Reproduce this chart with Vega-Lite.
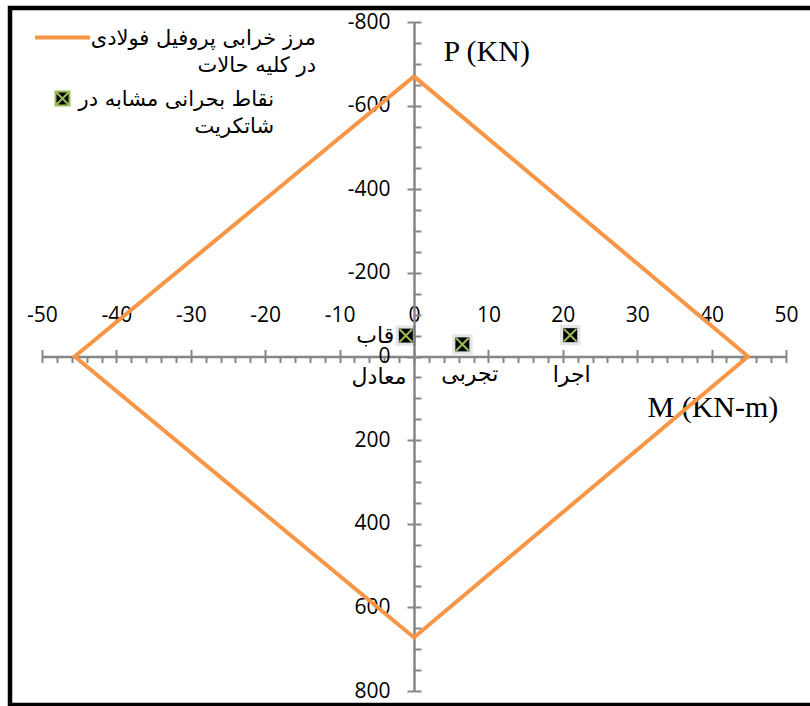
{
  "$schema": "https://vega.github.io/schema/vega-lite/v6.json",
  "autosize": "none",
  "width": 804,
  "height": 697,
  "padding": {"left": 10, "top": 8, "right": -4, "bottom": 1},
  "background": "white",
  "config": {
    "view": {"stroke": "#000000", "strokeWidth": 4.5},
    "axis": {
      "labelFont": "Open Sans", "labelFontSize": 21, "labelColor": "#000000", "labelFlush": false, "labelOverlap": false,
      "tickColor": "#868686", "tickWidth": 2, "domainColor": "#868686", "domainWidth": 2.5,
      "grid": false, "titleFont": "Liberation Serif", "titleFontSize": 30, "titleFontWeight": "normal", "titleColor": "#000000"
    }
  },
  "datasets": {
    "edge": [
      {"M": 0, "P": -670, "o": 1, "series": "a"},
      {"M": 44.9, "P": 0, "o": 2, "series": "a"},
      {"M": 0, "P": 672, "o": 3, "series": "a"},
      {"M": -45.6, "P": 0, "o": 4, "series": "a"},
      {"M": 0, "P": -670, "o": 5, "series": "a"}
    ],
    "pts": [
      {"M": -1.1, "P": -50, "series": "b"},
      {"M": 6.5, "P": -29, "series": "b"},
      {"M": 21, "P": -51, "series": "b"}
    ],
    "labels": [
      {"M": -5.2, "P": -48, "text": "قاب"},
      {"M": -4.7, "P": 50, "text": "معادل"},
      {"M": 7.5, "P": 41, "text": "تجربی"},
      {"M": 21.2, "P": 45, "text": "اجرا"}
    ]
  },
  "resolve": {"axis": {"x": "independent", "y": "independent"}},
  "layer": [
    {
      "data": {"name": "edge"},
      "mark": {"type": "line", "strokeWidth": 4},
      "encoding": {
        "x": {"field": "M", "type": "quantitative",
          "scale": {"domain": [-50, 50], "range": [32, 776], "nice": false, "zero": false},
          "axis": {"orient": "top", "offset": -348.5, "values": [-50, -40, -30, -20, -10, 0, 10, 20, 30, 40, 50],
            "tickSize": 7, "domain": false, "labelPadding": 28, "labelBaseline": "alphabetic", "title": null,
            "labelExpr": "datum.value < 0 ? '-' + abs(datum.value) : '' + datum.value"}},
        "y": {"field": "P", "type": "quantitative",
          "scale": {"domain": [-800, 800], "range": [14, 683], "nice": false, "zero": false},
          "axis": {"orient": "left", "offset": -404, "values": [-800, -600, -400, -200, 0, 200, 400, 600, 800],
            "tickSize": 7, "domain": false, "labelPadding": 17, "title": null,
            "labelExpr": "datum.value < 0 ? '-' + abs(datum.value) : '' + datum.value"}},
        "order": {"field": "o", "type": "quantitative"},
        "color": {"field": "series", "type": "nominal",
          "scale": {"domain": ["a", "b"], "range": ["#F79646", "#9BBB59"]},
          "legend": {
            "orient": "none", "legendX": 42, "legendY": 19, "title": null, "padding": 0,
            "symbolSize": 3025, "labelAlign": "right", "labelOffset": 243, "labelBaseline": "top",
            "labelFont": "DejaVu Sans", "labelFontSize": 21, "labelColor": "#000000", "labelLimit": 0,
            "rowPadding": 11,
            "labelExpr": "datum.value === 'a' ? ['مرز خرابی پروفیل فولادی', 'در کلیه حالات'] : ['نقاط بحرانی مشابه در', 'شاتکریت']",
            "encode": {
              "labels": {"update": {
                "dy": {"value": -10},
                "dx": {"signal": "datum.value === 'a' ? 0 : -42"},
                "lineHeight": {"value": 27}
              }},
              "symbols": {"update": {
                "shape": {"signal": "datum.value === 'a' ? 'stroke' : 'M-1,-1L1,-1L1,1L-1,1Z M-1,-1L1,1 M1,-1L-1,1'"},
                "size": {"signal": "datum.value === 'a' ? 3025 : 196"},
                "fill": {"signal": "datum.value === 'a' ? 'transparent' : '#000000'"},
                "stroke": {"signal": "datum.value === 'a' ? '#F79646' : '#9BBB59'"},
                "strokeWidth": {"signal": "datum.value === 'a' ? 4 : 2"},
                "opacity": {"value": 1}
              }}
            }
          }}
      }
    },
    {
      "data": {"name": "pts"},
      "mark": {"type": "point", "shape": "square", "filled": true, "size": 420, "color": "#000000", "opacity": 0.1},
      "encoding": {
        "x": {"field": "M", "type": "quantitative",
          "axis": {"orient": "bottom", "offset": -348.5,
            "values": [-50, -48, -46, -44, -42, -40, -38, -36, -34, -32, -30, -28, -26, -24, -22, -20, -18, -16, -14, -12, -10, -8, -6, -4, -2, 0, 2, 4, 6, 8, 10, 12, 14, 16, 18, 20, 22, 24, 26, 28, 30, 32, 34, 36, 38, 40, 42, 44, 46, 48, 50],
            "tickSize": 6, "labels": false, "domain": true,
            "title": "M (KN-m)", "titleX": 637, "titleY": 59.5, "titleAlign": "left", "titleBaseline": "alphabetic", "titleAnchor": null}},
        "y": {"field": "P", "type": "quantitative",
          "axis": {"orient": "right", "offset": -400,
            "values": [-800, -750, -700, -650, -600, -550, -500, -450, -400, -350, -300, -250, -200, -150, -100, -50, 0, 50, 100, 150, 200, 250, 300, 350, 400, 450, 500, 550, 600, 650, 700, 750, 800],
            "tickSize": 7, "labels": false, "domain": true,
            "title": "P (KN)", "titleAngle": 0, "titleX": 29, "titleY": 52, "titleAlign": "left", "titleBaseline": "alphabetic", "titleAnchor": null}}
      }
    },
    {
      "data": {"name": "pts"},
      "mark": {"type": "point", "shape": "square", "filled": true, "size": 196, "color": "#000000", "opacity": 1},
      "encoding": {
        "x": {"field": "M", "type": "quantitative", "axis": null},
        "y": {"field": "P", "type": "quantitative", "axis": null}
      }
    },
    {
      "data": {"name": "pts"},
      "mark": {"type": "point", "shape": "M-1,-1L1,1M1,-1L-1,1", "filled": false, "size": 160, "strokeWidth": 2, "opacity": 1},
      "encoding": {
        "x": {"field": "M", "type": "quantitative", "axis": null},
        "y": {"field": "P", "type": "quantitative", "axis": null},
        "color": {"field": "series", "type": "nominal"}
      }
    },
    {
      "data": {"name": "labels"},
      "mark": {"type": "text", "font": "DejaVu Sans", "fontSize": 22, "color": "#000000", "align": "center", "baseline": "middle"},
      "encoding": {
        "x": {"field": "M", "type": "quantitative", "axis": null},
        "y": {"field": "P", "type": "quantitative", "axis": null},
        "text": {"field": "text"}
      }
    }
  ]
}
